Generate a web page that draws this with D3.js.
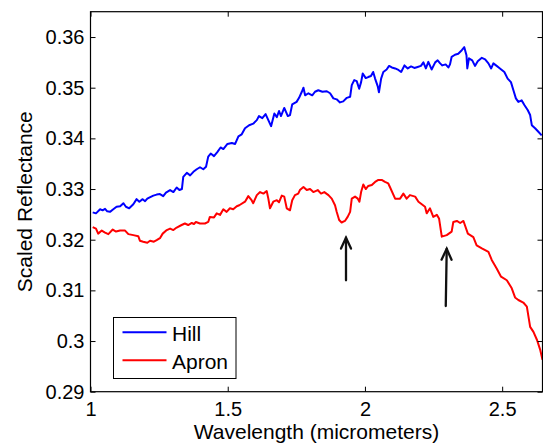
<!DOCTYPE html>
<html lang="en">
<head>
  <meta charset="UTF-8">
  <title>Scaled Reflectance</title>
  <script src="https://d3js.org/d3.v7.min.js"></script>
  <style>
    body { margin: 0; background: #fff; }
    text { font-family: "Liberation Sans", Arial, sans-serif; fill: #000; }
    .tick text { font-size: 20px; }
    .axis-label { font-size: 21px; }
    .legend text { font-size: 21px; }
  </style>
</head>
<body>
  <svg id="chart" width="543" height="443"></svg>

  <script>
    // Spectra (wavelength in micrometers, scaled reflectance)
    const hillWavelength = [1.008,1.020,1.035,1.044,1.053,1.061,1.071,1.083,1.095,1.108,1.120,1.129,1.141,1.156,1.168,1.178,1.190,1.199,1.207,1.214,1.229,1.241,1.253,1.265,1.275,1.290,1.302,1.314,1.324,1.333,1.338,1.351,1.363,1.375,1.387,1.399,1.411,1.421,1.429,1.438,1.450,1.462,1.474,1.484,1.499,1.515,1.527,1.539,1.551,1.563,1.578,1.593,1.606,1.614,1.626,1.638,1.648,1.658,1.670,1.679,1.687,1.694,1.706,1.719,1.727,1.735,1.751,1.760,1.770,1.776,1.782,1.794,1.808,1.818,1.830,1.845,1.861,1.873,1.885,1.897,1.909,1.921,1.934,1.946,1.952,1.961,1.970,1.979,1.986,1.992,2.003,2.012,2.022,2.030,2.037,2.047,2.051,2.059,2.067,2.079,2.088,2.098,2.110,2.122,2.132,2.144,2.156,2.168,2.180,2.192,2.204,2.213,2.222,2.231,2.243,2.256,2.265,2.274,2.282,2.294,2.304,2.310,2.316,2.328,2.340,2.353,2.362,2.370,2.373,2.379,2.391,2.401,2.411,2.426,2.438,2.450,2.460,2.468,2.480,2.492,2.508,2.520,2.532,2.541,2.550,2.559,2.571,2.581,2.593,2.602,2.608,2.620,2.632,2.644];
    const hillReflectance = [0.3254,0.3252,0.3260,0.3258,0.3261,0.3256,0.3255,0.3260,0.3265,0.3266,0.3272,0.3265,0.3262,0.3270,0.3280,0.3275,0.3280,0.3276,0.3281,0.3283,0.3287,0.3289,0.3290,0.3286,0.3293,0.3298,0.3294,0.3303,0.3298,0.3300,0.3324,0.3332,0.3327,0.3334,0.3339,0.3343,0.3339,0.3344,0.3364,0.3370,0.3365,0.3373,0.3382,0.3379,0.3389,0.3391,0.3389,0.3404,0.3408,0.3420,0.3426,0.3429,0.3436,0.3444,0.3440,0.3448,0.3436,0.3424,0.3449,0.3442,0.3454,0.3444,0.3460,0.3444,0.3446,0.3467,0.3472,0.3480,0.3492,0.3500,0.3485,0.3489,0.3485,0.3492,0.3495,0.3492,0.3493,0.3489,0.3479,0.3477,0.3471,0.3473,0.3480,0.3482,0.3505,0.3515,0.3513,0.3498,0.3511,0.3528,0.3519,0.3521,0.3523,0.3531,0.3518,0.3502,0.3491,0.3518,0.3531,0.3536,0.3543,0.3540,0.3538,0.3535,0.3531,0.3544,0.3538,0.3542,0.3539,0.3541,0.3543,0.3550,0.3538,0.3551,0.3536,0.3550,0.3554,0.3548,0.3544,0.3546,0.3540,0.3546,0.3561,0.3565,0.3567,0.3574,0.3580,0.3564,0.3538,0.3558,0.3554,0.3543,0.3552,0.3559,0.3556,0.3548,0.3538,0.3548,0.3543,0.3538,0.3531,0.3518,0.3511,0.3495,0.3479,0.3472,0.3475,0.3466,0.3456,0.3446,0.3426,0.3420,0.3413,0.3406];

    const apronWavelength = [1.008,1.020,1.028,1.041,1.053,1.065,1.081,1.093,1.108,1.126,1.138,1.156,1.174,1.180,1.192,1.207,1.217,1.231,1.241,1.253,1.263,1.278,1.290,1.302,1.314,1.332,1.344,1.356,1.369,1.377,1.384,1.399,1.417,1.429,1.435,1.450,1.460,1.472,1.484,1.496,1.508,1.520,1.533,1.542,1.563,1.575,1.587,1.593,1.606,1.618,1.630,1.642,1.648,1.654,1.666,1.679,1.687,1.697,1.706,1.715,1.727,1.735,1.745,1.757,1.763,1.776,1.788,1.800,1.812,1.828,1.840,1.852,1.867,1.879,1.891,1.897,1.906,1.915,1.927,1.937,1.946,1.952,1.964,1.974,1.980,1.986,1.994,2.003,2.012,2.025,2.037,2.049,2.061,2.073,2.085,2.091,2.110,2.128,2.140,2.152,2.164,2.183,2.195,2.219,2.225,2.237,2.249,2.262,2.270,2.280,2.298,2.316,2.322,2.335,2.347,2.359,2.375,2.395,2.407,2.426,2.450,2.462,2.480,2.496,2.517,2.535,2.547,2.559,2.577,2.590,2.602,2.614,2.627,2.639,2.647];
    const apronReflectance = [0.3225,0.3222,0.3212,0.3218,0.3214,0.3211,0.3220,0.3216,0.3218,0.3218,0.3211,0.3209,0.3207,0.3198,0.3196,0.3194,0.3198,0.3196,0.3199,0.3203,0.3212,0.3219,0.3222,0.3219,0.3224,0.3229,0.3232,0.3229,0.3233,0.3231,0.3235,0.3232,0.3232,0.3235,0.3245,0.3244,0.3252,0.3249,0.3260,0.3255,0.3262,0.3260,0.3266,0.3268,0.3275,0.3286,0.3278,0.3272,0.3288,0.3294,0.3291,0.3296,0.3281,0.3262,0.3275,0.3278,0.3274,0.3287,0.3285,0.3262,0.3258,0.3278,0.3288,0.3291,0.3298,0.3304,0.3298,0.3300,0.3294,0.3298,0.3291,0.3294,0.3288,0.3281,0.3268,0.3255,0.3239,0.3234,0.3237,0.3245,0.3255,0.3281,0.3285,0.3281,0.3275,0.3294,0.3309,0.3300,0.3306,0.3308,0.3314,0.3318,0.3318,0.3314,0.3311,0.3304,0.3281,0.3281,0.3291,0.3281,0.3288,0.3285,0.3275,0.3265,0.3252,0.3262,0.3245,0.3249,0.3242,0.3206,0.3209,0.3216,0.3235,0.3237,0.3233,0.3237,0.3212,0.3205,0.3189,0.3183,0.3176,0.3160,0.3143,0.3127,0.3120,0.3104,0.3086,0.3081,0.3076,0.3068,0.3028,0.3018,0.3002,0.2982,0.2963];

    const seriesNames = ["Hill", "Apron"];
    const seriesColors = ["#0000ff", "#ff0000"];

    const xTicks = [1, 1.5, 2, 2.5];
    const xTickLabels = ["1", "1.5", "2", "2.5"];
    const yTicks = [0.29, 0.30, 0.31, 0.32, 0.33, 0.34, 0.35, 0.36];
    const yTickLabels = ["0.29", "0.3", "0.31", "0.32", "0.33", "0.34", "0.35", "0.36"];

    // arrows pointing at the absorption dips (tail -> tip)
    const arrowTails = [[1.931, 0.3120], [2.2945, 0.3069]];
    const arrowTips = [[1.931, 0.3204], [2.298, 0.3182]];

    const svg = d3.select("#chart");
    const plotLeft = 90.5, plotRight = 542.5, plotTop = 11.7, plotBottom = 391.7;

    const x = d3.scaleLinear().domain([1, 2.647]).range([plotLeft, plotRight]);
    const y = d3.scaleLinear().domain([0.29, 0.365]).range([plotBottom, plotTop]);

    svg.append("rect").attr("width", 543).attr("height", 443).attr("fill", "#fff");

    svg.append("defs").append("clipPath").attr("id", "plotClip")
      .append("rect")
      .attr("x", plotLeft).attr("y", plotTop)
      .attr("width", plotRight - plotLeft).attr("height", plotBottom - plotTop);

    // curves
    const series = [
      d3.zip(hillWavelength, hillReflectance),
      d3.zip(apronWavelength, apronReflectance)
    ];
    const line = d3.line().x(d => x(d[0])).y(d => y(d[1]));

    svg.append("g").attr("clip-path", "url(#plotClip)")
      .selectAll("path")
      .data(series)
      .enter().append("path")
      .attr("d", line)
      .attr("fill", "none")
      .attr("stroke", (d, i) => seriesColors[i])
      .attr("stroke-width", 2)
      .attr("stroke-linejoin", "round");

    // axes (ticks inside, MATLAB-ish box)
    const xAxis = d3.axisBottom(x).tickValues(xTicks)
      .tickFormat((d, i) => xTickLabels[i]).tickSize(-5).tickPadding(10);
    const yAxis = d3.axisLeft(y).tickValues(yTicks)
      .tickFormat((d, i) => yTickLabels[i]).tickSize(-5).tickPadding(6);

    svg.append("g").attr("transform", `translate(0,${plotBottom})`).call(xAxis);
    svg.append("g").attr("transform", `translate(${plotLeft},0)`).call(yAxis);
    svg.append("g").attr("transform", `translate(0,${plotTop})`)
      .call(d3.axisTop(x).tickValues(xTicks).tickFormat("").tickSize(-5));
    svg.append("g").attr("transform", `translate(${plotRight},0)`)
      .call(d3.axisRight(y).tickValues(yTicks).tickFormat("").tickSize(-5));

    svg.selectAll(".domain").remove();
    svg.selectAll(".tick line").attr("stroke", "#000");

    svg.append("rect")
      .attr("x", plotLeft).attr("y", plotTop)
      .attr("width", plotRight - plotLeft).attr("height", plotBottom - plotTop)
      .attr("fill", "none").attr("stroke", "#000").attr("stroke-width", 1.2);

    // axis labels
    svg.append("text").attr("class", "axis-label")
      .attr("x", (plotLeft + plotRight) / 2).attr("y", 439)
      .attr("text-anchor", "middle")
      .text("Wavelength (micrometers)");

    svg.append("text").attr("class", "axis-label")
      .attr("transform", `translate(32,${(plotTop + plotBottom) / 2}) rotate(-90)`)
      .attr("text-anchor", "middle")
      .text("Scaled Reflectance");

    // arrows
    const arrowG = svg.append("g").attr("stroke", "#111").attr("stroke-width", 2.3)
      .attr("fill", "none").attr("stroke-linecap", "round");
    arrowTails.forEach((t, i) => {
      const x0 = x(t[0]), y0 = y(t[1]);
      const x1 = x(arrowTips[i][0]), y1 = y(arrowTips[i][1]);
      const a = Math.atan2(y1 - y0, x1 - x0);
      const hl = 12, hw = 0.43;
      arrowG.append("line").attr("x1", x0).attr("y1", y0).attr("x2", x1).attr("y2", y1);
      arrowG.append("path").attr("d",
        `M${x1 - hl * Math.cos(a - hw)},${y1 - hl * Math.sin(a - hw)}` +
        `L${x1},${y1}` +
        `L${x1 - hl * Math.cos(a + hw)},${y1 - hl * Math.sin(a + hw)}`);
    });

    // legend
    const legend = svg.append("g").attr("class", "legend");
    legend.append("rect")
      .attr("x", 113.5).attr("y", 317.5).attr("width", 122.5).attr("height", 61)
      .attr("fill", "#fff").attr("stroke", "#000").attr("stroke-width", 1);
    seriesNames.forEach((name, i) => {
      const ly = 332.3 + i * 28;
      legend.append("line")
        .attr("x1", 122.5).attr("x2", 166.5).attr("y1", ly).attr("y2", ly)
        .attr("stroke", seriesColors[i]).attr("stroke-width", 2);
      legend.append("text").attr("x", 172).attr("y", ly + 9).text(name);
    });
  </script>
</body>
</html>
